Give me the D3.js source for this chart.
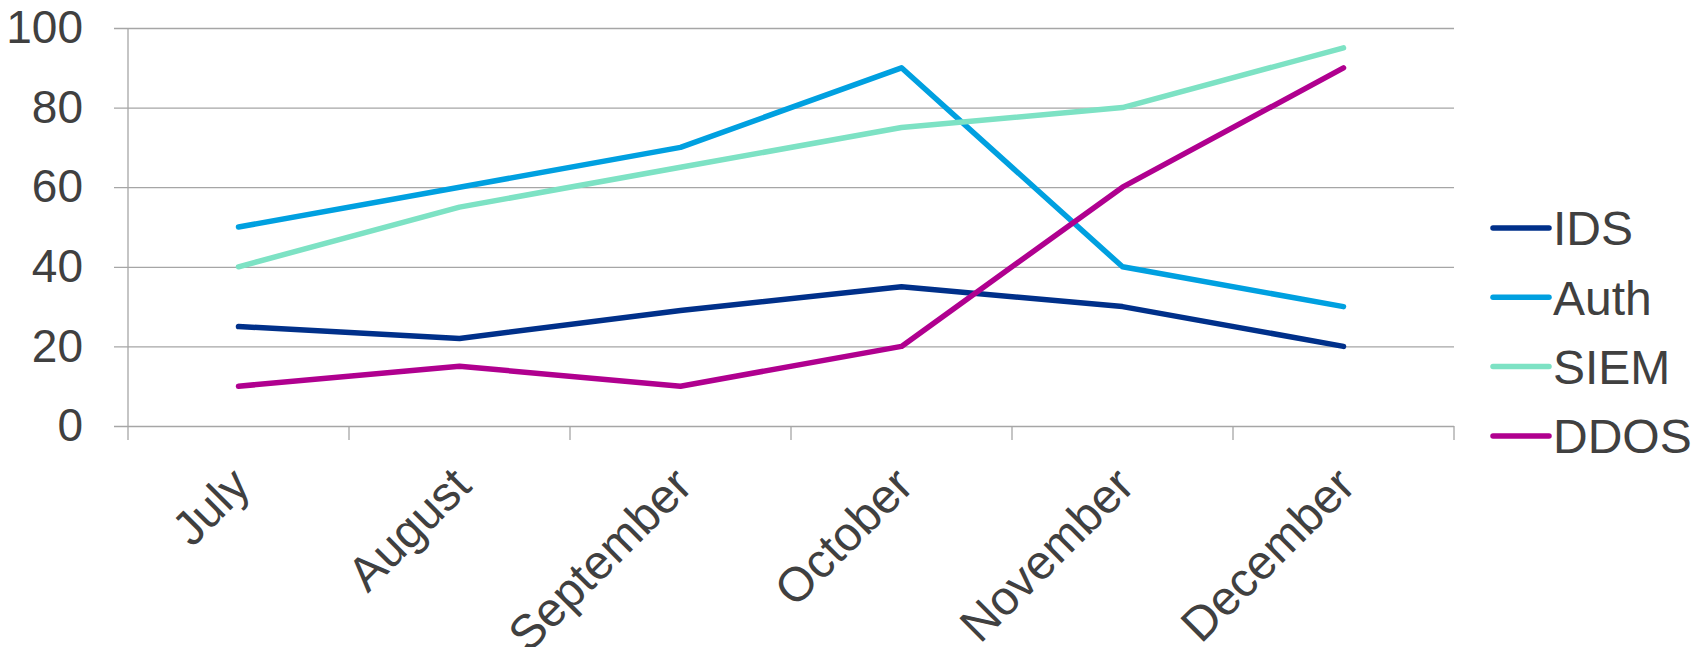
<!DOCTYPE html>
<html>
<head>
<meta charset="utf-8">
<script src="https://cdn.jsdelivr.net/npm/d3@7"></script>
<style>
  body { margin: 0; background: #fff; }
  svg { display: block; }
  text { font-family: Arial, "Liberation Sans", sans-serif; fill: #404040; }
</style>
</head>
<body>
<svg width="1694" height="647"></svg>
<script>
var months = ['July', 'August', 'September', 'October', 'November', 'December'];
var seriesNames = ['IDS', 'Auth', 'SIEM', 'DDOS'];
var idsValues = [25, 22, 29, 35, 30, 20];
var authValues = [50, 60, 70, 90, 40, 30];
var siemValues = [40, 55, 65, 75, 80, 95];
var ddosValues = [10, 15, 10, 20, 60, 90];
var yTicks = [0, 20, 40, 60, 80, 100];
var colors = ['#00308A', '#00A0E0', '#7DE2C4', '#B0008F'];

var series = [idsValues, authValues, siemValues, ddosValues].map(function(vals, i) {
  return { name: seriesNames[i], color: colors[i], values: vals };
});

// note: "top" is taken by window.top, so plot edges get their own names
var plotLeft = 128, plotRight = 1454, plotTop = 28, plotBottom = 426;
var gridColor = '#a6a6a6';

var svg = d3.select('svg');

var x = d3.scaleBand().domain(months).range([plotLeft, plotRight]).padding(0);
var y = d3.scaleLinear().domain([0, 100]).range([plotBottom, plotTop]);

// gridlines + y labels (axis drawn from the right so lines run back to the left tick)
var yAxis = svg.append('g')
  .attr('transform', 'translate(' + plotRight + ',0)')
  .call(d3.axisLeft(y).tickValues(yTicks).tickSize(plotRight - plotLeft + 14).tickPadding(31));
yAxis.select('.domain').remove();
yAxis.selectAll('line').attr('stroke', gridColor).attr('stroke-width', 1.3);
yAxis.selectAll('text')
  .attr('font-size', 46)
  .attr('fill', '#404040')
  .attr('font-family', 'Arial, "Liberation Sans", sans-serif');

// vertical axis line
svg.append('line')
  .attr('x1', plotLeft).attr('x2', plotLeft)
  .attr('y1', plotTop).attr('y2', plotBottom + 14)
  .attr('stroke', gridColor).attr('stroke-width', 1.3);

// category boundary ticks
var bounds = months.map(function(m) { return x(m); }).concat([plotRight]);
svg.selectAll('.xtick')
  .data(bounds.slice(1))
  .enter().append('line')
  .attr('class', 'xtick')
  .attr('x1', function(d) { return d; }).attr('x2', function(d) { return d; })
  .attr('y1', plotBottom).attr('y2', plotBottom + 14)
  .attr('stroke', gridColor).attr('stroke-width', 1.3);

// x labels
var xAxis = svg.append('g')
  .attr('transform', 'translate(0,' + plotBottom + ')')
  .call(d3.axisBottom(x).tickSize(0).tickPadding(0));
xAxis.select('.domain').remove();
xAxis.selectAll('text')
  .attr('font-size', 48)
  .attr('fill', '#404040')
  .attr('font-family', 'Arial, "Liberation Sans", sans-serif')
  .attr('text-anchor', 'end')
  .attr('dy', null)
  .attr('y', null)
  .attr('transform', 'translate(14,62) rotate(-45)');

var line = d3.line()
  .x(function(d, i) { return x(months[i]) + x.bandwidth() / 2; })
  .y(function(d) { return y(d); });

svg.selectAll('.series')
  .data(series)
  .enter().append('path')
  .attr('class', 'series')
  .attr('fill', 'none')
  .attr('stroke', function(d) { return d.color; })
  .attr('stroke-width', 5.5)
  .attr('stroke-linejoin', 'round')
  .attr('stroke-linecap', 'round')
  .attr('d', function(d) { return line(d.values); });

// legend
var legend = svg.selectAll('.legend')
  .data(series)
  .enter().append('g')
  .attr('class', 'legend')
  .attr('transform', function(d, i) { return 'translate(1493,' + (228 + i * 69.3) + ')'; });

legend.append('line')
  .attr('x1', 0).attr('x2', 56)
  .attr('stroke', function(d) { return d.color; })
  .attr('stroke-width', 5.5)
  .attr('stroke-linecap', 'round');

legend.append('text')
  .attr('x', 60)
  .attr('dy', '0.36em')
  .attr('font-size', 48)
  .text(function(d) { return d.name; });
</script>
</body>
</html>
